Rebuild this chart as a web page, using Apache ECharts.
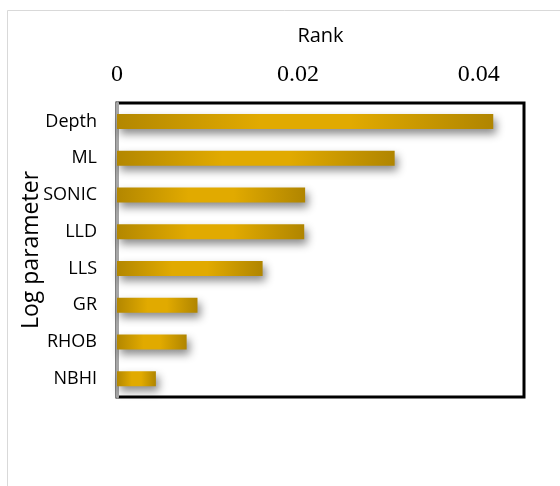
<!DOCTYPE html>
<html>
<head>
<meta charset="utf-8">
<script src="https://cdn.jsdelivr.net/npm/echarts@6/dist/echarts.min.js"></script>
<style>
  html, body { margin: 0; padding: 0; background: #fff; }
  #chart { width: 560px; height: 486px; }
</style>
</head>
<body>
<div id="chart"></div>
<script>
// Log parameters, ranked by importance (top to bottom)
const parameters = ['Depth', 'ML', 'SONIC', 'LLD', 'LLS', 'GR', 'RHOB', 'NBHI'];
const rankValues = [0.0416, 0.0307, 0.0208, 0.0207, 0.0161, 0.0089, 0.0077, 0.0043];
const rankTicks = [0, 0.02, 0.04];

const chart = echarts.init(document.getElementById('chart'), null, { renderer: 'canvas' });

// gold bar fill: darker at the ends, bright in the middle
const goldFill = new echarts.graphic.LinearGradient(0, 0, 1, 0, [
  { offset: 0, color: '#B38700' },
  { offset: 0.38, color: '#E1AA00' },
  { offset: 0.62, color: '#E1AA00' },
  { offset: 1, color: '#B08500' }
]);

chart.setOption({
  animation: false,
  backgroundColor: '#ffffff',
  graphic: [{
    type: 'rect',
    shape: { x: 7.5, y: 10.5, width: 700, height: 700 },
    style: { fill: 'none', stroke: '#d9d9d9', lineWidth: 1 },
    silent: true,
    z: -10
  }],
  grid: {
    left: 117, right: 36, top: 103, bottom: 89,
    show: true,
    borderColor: '#000000',
    borderWidth: 3,
    backgroundColor: 'transparent'
  },
  xAxis: {
    type: 'value',
    position: 'top',
    min: 0,
    max: 0.045,
    interval: 0.02,
    name: 'Rank',
    nameLocation: 'middle',
    nameGap: 57,
    nameTextStyle: { fontFamily: 'Open Sans', fontSize: 20, color: '#000' },
    axisLine: { show: false },
    axisTick: { show: false },
    splitLine: { show: false },
    axisLabel: {
      showMaxLabel: false,
      margin: 16,
      fontFamily: 'Liberation Serif',
      fontSize: 24,
      color: '#000',
      formatter: v => (rankTicks.some(t => Math.abs(t - v) < 1e-9) ? String(+v.toFixed(2)) : '')
    }
  },
  yAxis: {
    type: 'category',
    data: parameters,
    inverse: true,
    name: 'Log parameter',
    nameLocation: 'middle',
    nameGap: 74,
    nameMoveOverlap: false,
    nameRotate: 90,
    nameTextStyle: { fontFamily: 'Open Sans', fontSize: 23, color: '#000' },
    axisLine: { show: true, lineStyle: { color: '#a6a6a6', width: 3 } },
    axisTick: { show: false },
    splitLine: { show: false },
    axisLabel: {
      margin: 20,
      fontFamily: 'Open Sans',
      fontSize: 18,
      color: '#000'
    }
  },
  series: [{
    type: 'bar',
    data: rankValues,
    barWidth: 15,
    itemStyle: {
      color: goldFill,
      shadowColor: 'rgba(0,0,0,0.45)',
      shadowBlur: 8,
      shadowOffsetX: 3,
      shadowOffsetY: 5
    }
  }]
});
</script>
</body>
</html>
